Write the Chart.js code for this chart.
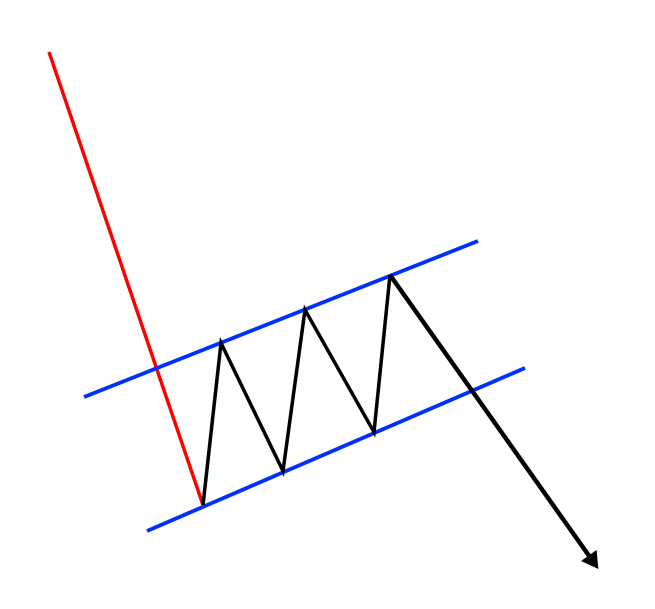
<!DOCTYPE html>
<html>
<head>
<meta charset="utf-8">
<script src="https://cdn.jsdelivr.net/npm/chart.js@4"></script>
<style>
  html, body { margin: 0; padding: 0; background: #fff; }
  #wrap { width: 655px; height: 609px; }
</style>
</head>
<body>
<div id="wrap"><canvas id="chart"></canvas></div>
<script>
// datos del dibujo (x, y en unidades del plano, y crece hacia abajo)
const poleX = [49, 203];
const poleY = [52, 505];
const upperX = [84, 478];
const upperY = [397, 241];
const lowerX = [147, 525];
const lowerY = [531, 368];
const zigX = [203, 221, 283, 305, 374, 390];
const zigY = [505, 343, 471, 310, 432, 275];
const breakX = [390, 592];
const breakY = [275, 560];

const pts = (xs, ys) => xs.map((x, i) => ({ x: x, y: ys[i] }));

const ctx = document.getElementById("chart").getContext("2d");
new Chart(ctx, {
    type: "scatter",
    data: {
        datasets: [
            { data: pts(poleX, poleY), showLine: true, borderColor: "#ff0000", borderWidth: 3.5, pointRadius: 0, order: 4 },
            { data: pts(upperX, upperY), showLine: true, borderColor: "#0030ff", borderWidth: 4, pointRadius: 0, order: 3 },
            { data: pts(lowerX, lowerY), showLine: true, borderColor: "#0030ff", borderWidth: 4, pointRadius: 0, order: 3 },
            { data: pts(zigX, zigY), showLine: true, borderColor: "#000", borderWidth: 3.5, pointRadius: 0, order: 2 },
            {
                data: pts(breakX, breakY), showLine: true, borderColor: "#000", borderWidth: 4.5,
                pointRadius: [0, 11], pointStyle: "triangle", pointRotation: 144.5,
                pointBackgroundColor: "#000", pointBorderColor: "#000", pointBorderWidth: 0, order: 1
            }
        ]
    },
    options: {
        responsive: true,
        maintainAspectRatio: false,
        animation: false,
        layout: { padding: 0, autoPadding: false },
        plugins: { legend: { display: false }, tooltip: { enabled: false } },
        scales: {
            x: { type: "linear", min: 0, max: 655, display: false },
            y: { type: "linear", min: 0, max: 609, reverse: true, display: false }
        }
    }
});
</script>
</body>
</html>
